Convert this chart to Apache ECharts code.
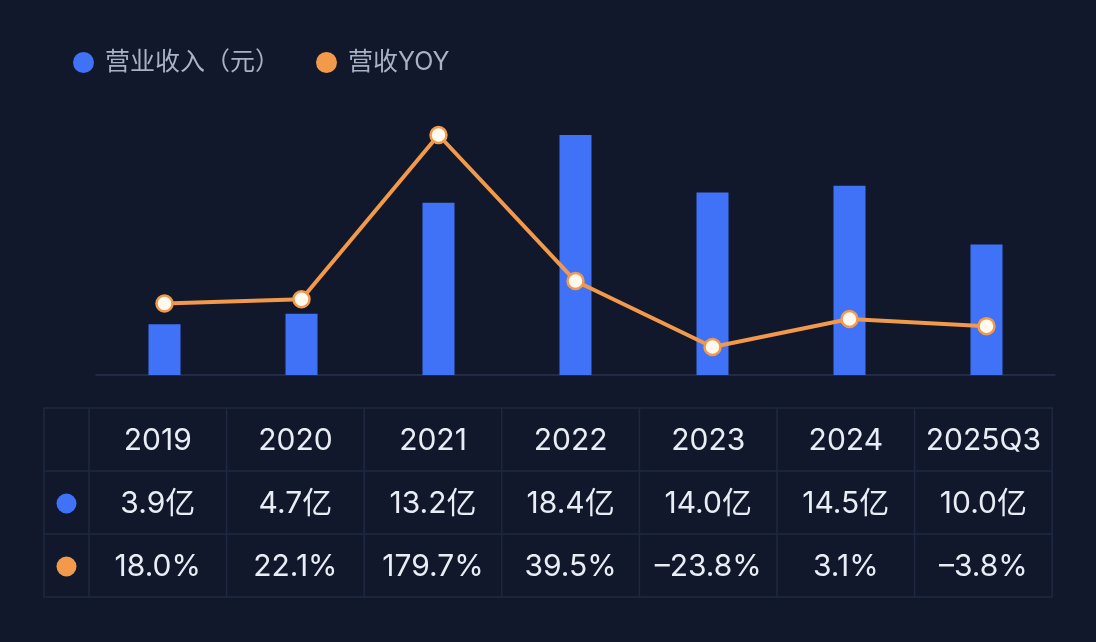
<!DOCTYPE html>
<html><head><meta charset="utf-8">
<script src="https://cdn.jsdelivr.net/npm/echarts@6/dist/echarts.min.js"></script>
<style>html,body{margin:0;padding:0;background:#11182b;}#c{width:1096px;height:642px;}</style>
</head><body><div id="c"></div>
<script>
const categories = ['2019','2020','2021','2022','2023','2024','2025Q3'];
const revenue = [3.9, 4.7, 13.2, 18.4, 14.0, 14.5, 10.0];
const yoy = [18.0, 22.1, 179.7, 39.5, -23.8, 3.1, -3.8];
const seriesNames = ['营业收入（元）', '营收YOY'];

const BG = '#11182b', BLUE = '#3f72f6', ORANGE = '#f2994a', GRIDC = '#1e2841';
const FONT = 'Inter, "Noto Sans CJK SC", "Noto Sans", sans-serif';

function fmtRev(v){ return v.toFixed(1) + '亿'; }
function fmtYoy(v){ return (v < 0 ? '–' + Math.abs(v).toFixed(1) : v.toFixed(1)) + '%'; }

// table graphics
const tLeft = 44, firstW = 45, colW = 137.6, tTop = 408, rowH = 63;
const tRight = tLeft + firstW + colW * categories.length;
const tBottom = tTop + rowH * 3;
const g = [];
g.push({type:'rect', shape:{x:tLeft, y:tTop, width:tRight - tLeft, height:tBottom - tTop}, style:{fill:'transparent', stroke:GRIDC, lineWidth:1.5}, silent:true});
for (let r = 1; r < 3; r++) {
  g.push({type:'line', shape:{x1:tLeft, y1:tTop + rowH*r, x2:tRight, y2:tTop + rowH*r}, style:{stroke:GRIDC, lineWidth:1.5}, silent:true});
}
for (let c = 0; c < categories.length; c++) {
  const x = tLeft + firstW + colW * c;
  g.push({type:'line', shape:{x1:x, y1:tTop, x2:x, y2:tBottom}, style:{stroke:GRIDC, lineWidth:1.5}, silent:true});
}
const rows = [categories, revenue.map(fmtRev), yoy.map(fmtYoy)];
rows.forEach((row, r) => {
  row.forEach((txt, c) => {
    g.push({type:'text', silent:true,
      style:{text:txt, x: tLeft + firstW + colW*c + colW/2, y: tTop + rowH*r + rowH/2 + 1,
        fill:'#e9edf6', font:'30px ' + FONT, align:'center', verticalAlign:'middle',
        textAlign:'center', textVerticalAlign:'middle'}});
  });
});
[BLUE, ORANGE].forEach((col, i) => {
  g.push({type:'circle', silent:true, shape:{cx: tLeft + firstW/2, cy: tTop + rowH*(i+1) + rowH/2 + 1, r:10}, style:{fill:col}});
});

const chart = echarts.init(document.getElementById('c'));
chart.setOption({
  backgroundColor: BG,
  animation: false,
  legend: {
    left: 68, top: 45, itemGap: 36, itemWidth: 21, itemHeight: 21,
    icon: 'circle',
    textStyle: {color:'#a9b1c6', fontSize: 25, fontFamily: FONT, padding:[0,0,0,6]},
    data: [
      {name: seriesNames[0], itemStyle: {color: BLUE}},
      {name: seriesNames[1], itemStyle: {color: ORANGE, borderWidth: 0}}
    ]
  },
  grid: {left: 96, right: 41, top: 135, bottom: 267},
  xAxis: {
    type: 'category', data: categories,
    axisLine: {lineStyle: {color: '#273250', width: 1.5}},
    axisTick: {show: false}, axisLabel: {show: false}
  },
  yAxis: [
    {type: 'value', min: 0, max: 'dataMax', show: false, splitLine: {show: false}},
    {type: 'value', min: -50.7, max: 'dataMax', show: false, splitLine: {show: false}}
  ],
  series: [
    {name: seriesNames[0], type: 'bar', data: revenue, barWidth: 32,
     itemStyle: {color: BLUE}, yAxisIndex: 0},
    {name: seriesNames[1], type: 'line', data: yoy, yAxisIndex: 1,
     symbol: 'circle', symbolSize: 16,
     lineStyle: {color: ORANGE, width: 4},
     itemStyle: {color: '#fff9ef', borderColor: ORANGE, borderWidth: 2.5}}
  ],
  graphic: g
});
</script></body></html>
